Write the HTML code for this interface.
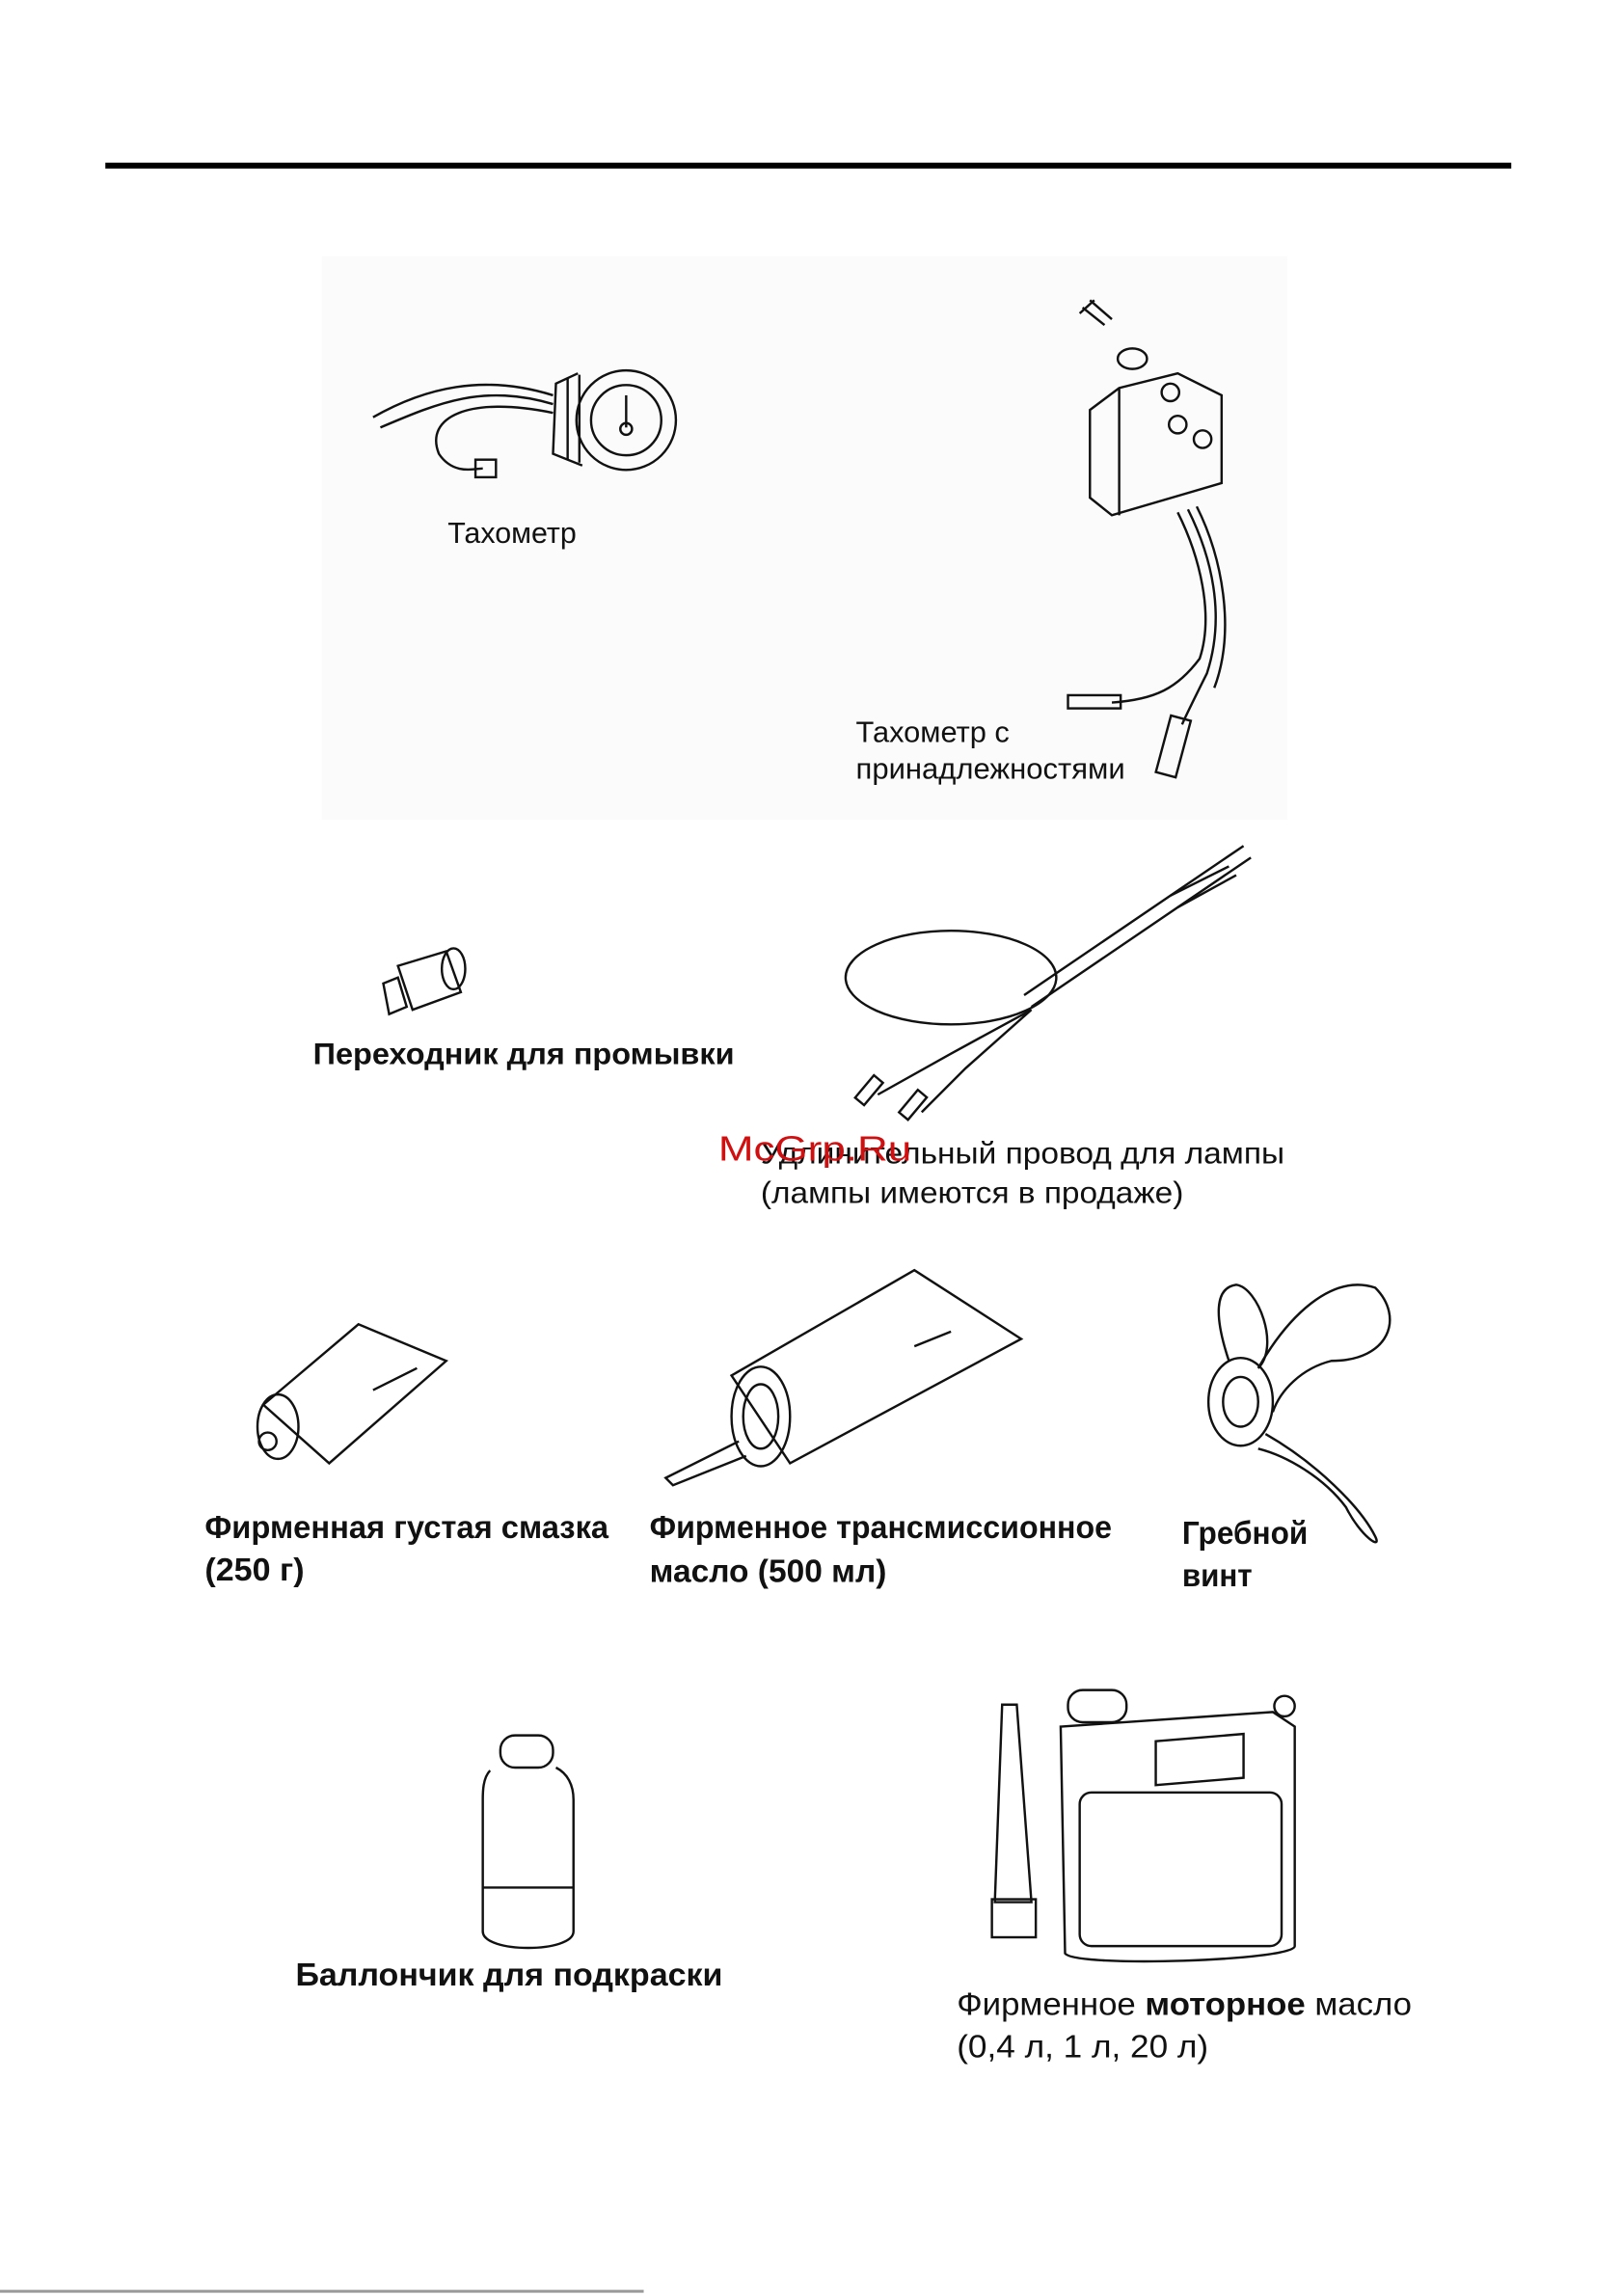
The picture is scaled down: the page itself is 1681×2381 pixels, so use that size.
<!DOCTYPE html>
<html><head><meta charset="utf-8"><style>
html,body{margin:0;padding:0;background:#fff}
svg{display:block}
text{font-family:"Liberation Sans",sans-serif;fill:#111}
</style></head><body>
<svg width="1681" height="2381" viewBox="0 0 1108 1569" xmlns="http://www.w3.org/2000/svg">
<rect x="220" y="175" width="660" height="385" fill="#fbfbfb"/>
<rect x="72" y="111" width="961" height="4" fill="#000"/>
<line x1="0" y1="1566" x2="440" y2="1566" stroke="#999" stroke-width="2"/>
<g fill="none" stroke="#111" stroke-width="1.6">
<ellipse cx="428" cy="287" rx="34" ry="34"/><ellipse cx="428" cy="287" rx="24" ry="24"/>
<path d="M395 255 L380 262 L378 310 L398 318"/><path d="M388 258 L388 314 M396 256 L396 316"/>
<path d="M428 270 L428 292"/><circle cx="428" cy="293" r="4"/>
<path d="M378 270 C330 255 290 265 255 285 M378 276 C330 262 300 275 260 292 M378 282 C320 270 290 285 300 310 C310 325 325 320 330 320"/>
<rect x="325" y="314" width="14" height="12"/>
<path d="M740 210 L755 222 M745 205 L760 218 M738 214 L748 205"/><ellipse cx="774" cy="245" rx="10" ry="7"/>
<path d="M745 280 L765 265 L805 255 L835 270 L835 330 L760 352 L745 340 Z"/><path d="M765 265 L765 352"/>
<circle cx="800" cy="268" r="6"/><circle cx="805" cy="290" r="6"/><circle cx="822" cy="300" r="6"/>
<path d="M805 350 C820 380 830 420 820 450 C805 470 790 478 760 480 M812 348 C828 380 838 420 825 460 C815 480 810 490 808 495 M818 346 C835 380 845 430 830 470"/>
<rect x="730" y="475" width="36" height="9"/><rect x="795" y="490" width="14" height="40" transform="rotate(15 802 510)"/>
<path d="M272 660 L305 650 L315 678 L282 690 Z"/><ellipse cx="310" cy="662" rx="8" ry="14"/>
<path d="M262 672 L272 668 L278 688 L266 693 Z"/>
<ellipse cx="650" cy="668" rx="72" ry="32"/>
<path d="M700 680 L850 578 M705 688 L855 586"/><path d="M800 612 L840 592 M805 620 L845 598"/>
<path d="M705 690 L650 720 L600 748 M705 690 L660 730 L630 760"/>
<rect x="590" y="735" width="8" height="20" transform="rotate(40 594 745)"/><rect x="620" y="745" width="8" height="20" transform="rotate(40 624 755)"/>
<path d="M180 960 L245 905 L305 930 L225 1000 Z"/><ellipse cx="190" cy="975" rx="14" ry="22"/><circle cx="183" cy="985" r="6"/>
<path d="M255 950 L285 935"/>
<path d="M500 940 L625 868 L698 915 L540 1000 Z"/><ellipse cx="520" cy="968" rx="20" ry="34"/><ellipse cx="520" cy="968" rx="12" ry="22"/>
<path d="M505 985 L455 1010 L460 1015 L510 995"/><path d="M625 920 L650 910"/>
<ellipse cx="848" cy="958" rx="22" ry="30"/><ellipse cx="848" cy="958" rx="12" ry="17"/>
<path d="M840 930 C830 900 830 880 845 878 C860 880 875 920 860 935"/>
<path d="M860 935 C880 900 910 870 940 880 C960 900 950 930 910 930 C890 935 875 950 870 965"/>
<path d="M865 980 C900 1000 930 1030 940 1050 C945 1060 930 1050 920 1030 C905 1010 880 995 860 990"/>
<rect x="342" y="1186" width="36" height="22" rx="10"/><path d="M335 1210 C330 1215 330 1225 330 1230 L330 1320 C330 1335 392 1335 392 1320 L392 1230 C392 1220 388 1212 380 1208"/>
<path d="M330 1290 L392 1290"/>
<rect x="730" y="1155" width="40" height="22" rx="10"/><path d="M725 1180 L870 1170 L885 1180 L885 1330 C885 1340 735 1345 728 1335 Z"/>
<rect x="738" y="1225" width="138" height="105" rx="8"/><path d="M790 1190 L850 1185 L850 1215 L790 1220 Z"/><circle cx="878" cy="1166" r="7"/>
<path d="M685 1165 L695 1165 L705 1300 L680 1300 Z"/><rect x="678" y="1298" width="30" height="26"/>
</g>
<g lengthAdjust="spacingAndGlyphs">
<text x="306" y="371" font-size="20" textLength="88" lengthAdjust="spacingAndGlyphs">Тахометр</text>
<text x="585" y="507" font-size="20" textLength="105" lengthAdjust="spacingAndGlyphs">Тахометр с</text>
<text x="585" y="532" font-size="20" textLength="184" lengthAdjust="spacingAndGlyphs">принадлежностями</text>
<text x="214" y="727" font-size="21" font-weight="bold" textLength="288" lengthAdjust="spacingAndGlyphs">Переходник для промывки</text>
<text x="520" y="795" font-size="21" textLength="358" lengthAdjust="spacingAndGlyphs">Удлинительный провод для лампы</text>
<text x="520" y="822" font-size="21" textLength="289" lengthAdjust="spacingAndGlyphs">(лампы имеются в продаже)</text>
<text x="491" y="793" font-size="24" style="fill:#d01010" textLength="132" lengthAdjust="spacingAndGlyphs">McGrp.Ru</text>
<text x="140" y="1051" font-size="22" font-weight="bold" textLength="276" lengthAdjust="spacingAndGlyphs">Фирменная густая смазка</text>
<text x="140" y="1080" font-size="22" font-weight="bold" textLength="68" lengthAdjust="spacingAndGlyphs">(250 г)</text>
<text x="444" y="1051" font-size="22" font-weight="bold" textLength="316" lengthAdjust="spacingAndGlyphs">Фирменное трансмиссионное</text>
<text x="444" y="1081" font-size="22" font-weight="bold" textLength="162" lengthAdjust="spacingAndGlyphs">масло (500 мл)</text>
<text x="808" y="1055" font-size="22" font-weight="bold" textLength="86" lengthAdjust="spacingAndGlyphs">Гребной</text>
<text x="808" y="1084" font-size="22" font-weight="bold" textLength="48" lengthAdjust="spacingAndGlyphs">винт</text>
<text x="202" y="1357" font-size="22" font-weight="bold" textLength="292" lengthAdjust="spacingAndGlyphs">Баллончик для подкраски</text>
<text x="654" y="1377" font-size="22" textLength="311" lengthAdjust="spacingAndGlyphs">Фирменное <tspan font-weight="bold">моторное</tspan> масло</text>
<text x="654" y="1406" font-size="22" textLength="172" lengthAdjust="spacingAndGlyphs">(0,4 л, 1 л, 20 л)</text>
</g>
</svg>
</body></html>
